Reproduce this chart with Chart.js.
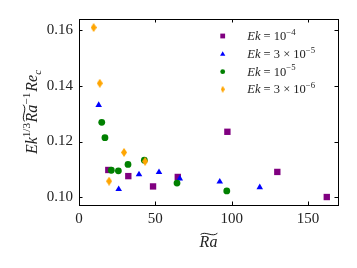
<!DOCTYPE html>
<html lang="en">
<head>
  <meta charset="UTF-8" />
  <title>Re_c scaling</title>
  <style>
    body { margin: 0; background: #fff; }
    canvas { display: block; }
  </style>
</head>
<body>
  <canvas id="scatter" width="357" height="268"></canvas>

  <script src="https://cdn.jsdelivr.net/npm/chart.js"></script>
  <script>
    // data: Ra~ on x, Ek^(1/3) Ra~^-1 Re_c on y
    const raEk1e4 = [19.2, 32.3, 48.5, 64.7, 97.2, 129.9, 162.3];
    const reEk1e4 = [0.1098, 0.1076, 0.1039, 0.1073, 0.1235, 0.1091, 0.1001];

    const raEk3e5 = [12.9, 26.0, 39.3, 52.4, 66.0, 92.2, 118.4];
    const reEk3e5 = [0.1331, 0.1029, 0.1082, 0.1090, 0.1067, 0.1056, 0.1036];

    const raEk1e5 = [14.9, 17.0, 21.2, 25.8, 32.1, 42.8, 64.2, 96.8];
    const reEk1e5 = [0.1269, 0.1214, 0.1097, 0.1095, 0.1118, 0.1133, 0.1051, 0.1023];

    const raEk3e6 = [9.6, 13.6, 19.7, 29.5, 43.3];
    const reEk3e6 = [0.1609, 0.1409, 0.1058, 0.1161, 0.1129];

    const xTicks = [0, 50, 100, 150];
    const yTicks = [0.10, 0.12, 0.14, 0.16];

    // legend: Ek = [mantissa]10^[exponent]
    const legendMantissa = ['', '3 \u00d7 ', '', '3 \u00d7 '];
    const legendExponent = ['\u22124', '\u22125', '\u22125', '\u22126'];

    const SERIF = '"Liberation Serif", "DejaVu Serif", serif';

    // matplotlib thin diamond marker
    function thinDiamond(w, h, color) {
      const c = document.createElement('canvas');
      c.width = w + 1;
      c.height = h + 1;
      const g = c.getContext('2d');
      g.fillStyle = color;
      g.beginPath();
      g.moveTo(c.width / 2, 0);
      g.lineTo(c.width, c.height / 2);
      g.lineTo(c.width / 2, c.height);
      g.lineTo(0, c.height / 2);
      g.closePath();
      g.fill();
      return c;
    }

    const series = [
      { ra: raEk1e4, re: reEk1e4, color: '#800080', style: 'rect', r: 4.5, lr: 3.4 },
      { ra: raEk3e5, re: reEk3e5, color: '#0000ff', style: 'triangle', r: 3.8, lr: 3.0 },
      { ra: raEk1e5, re: reEk1e5, color: '#008000', style: 'circle', r: 3.4, lr: 2.4 },
      { ra: raEk3e6, re: reEk3e6, color: '#ffa500', style: thinDiamond(5, 8, '#ffa500'), r: 4,
        legendStyle: thinDiamond(3, 6, '#ffa500'), lr: 3 }
    ];

    // draws a run list [{t, it, sup, sub}] starting at x, baseline y
    function drawRuns(ctx, runs, x, y, size) {
      ctx.textBaseline = 'alphabetic';
      ctx.textAlign = 'left';
      runs.forEach(run => {
        const s = (run.sup || run.sub) ? size * 0.7 : size;
        ctx.font = (run.it ? 'italic ' : '') + s + 'px ' + SERIF;
        let dy = 0;
        if (run.sup) dy = -size * 0.42;
        if (run.sub) dy = size * 0.22;
        ctx.fillText(run.t, x, y + dy);
        const w = ctx.measureText(run.t).width;
        if (run.tilde) {
          // wide tilde over the run
          ctx.save();
          ctx.lineWidth = 0.9;
          ctx.beginPath();
          const tx = x + 1, ty = y - size * 0.86, tw = w - 1;
          ctx.moveTo(tx, ty + 1.2);
          ctx.bezierCurveTo(tx + tw * 0.3, ty - 2.5, tx + tw * 0.7, ty + 4.5, tx + tw, ty);
          ctx.stroke();
          ctx.restore();
        }
        x += w + (run.gap || 0);
      });
      return x;
    }

    function runsWidth(ctx, runs, size) {
      let w = 0;
      runs.forEach(run => {
        const s = (run.sup || run.sub) ? size * 0.7 : size;
        ctx.font = (run.it ? 'italic ' : '') + s + 'px ' + SERIF;
        w += ctx.measureText(run.t).width + (run.gap || 0);
      });
      return w;
    }

    const framePlugin = {
      id: 'frame',
      afterDraw(chart) {
        const ctx = chart.ctx;
        const a = chart.chartArea;
        const xs = chart.scales.x, ys = chart.scales.y;
        ctx.save();
        ctx.strokeStyle = '#000';
        ctx.fillStyle = '#222';
        ctx.lineWidth = 1;
        ctx.strokeRect(Math.round(a.left) + 0.5, Math.round(a.top) + 0.5,
          Math.round(a.right - a.left), Math.round(a.bottom - a.top));

        // inward ticks on all four sides
        const tl = 3.5;
        ctx.beginPath();
        xTicks.forEach(v => {
          const px = Math.round(xs.getPixelForValue(v)) + 0.5;
          ctx.moveTo(px, a.bottom); ctx.lineTo(px, a.bottom - tl);
          ctx.moveTo(px, a.top); ctx.lineTo(px, a.top + tl);
        });
        yTicks.forEach(v => {
          const py = Math.round(ys.getPixelForValue(v)) + 0.5;
          ctx.moveTo(a.left, py); ctx.lineTo(a.left + tl, py);
          ctx.moveTo(a.right, py); ctx.lineTo(a.right - tl, py);
        });
        ctx.stroke();

        // x title
        const xRuns = [{ t: 'Ra', it: true, tilde: true }];
        const xw = runsWidth(ctx, xRuns, 16);
        drawRuns(ctx, xRuns, (a.left + a.right) / 2 - xw / 2, 247, 16);

        // y title, rotated
        const yRuns = [
          { t: 'Ek', it: true },
          { t: '1/3', sup: true, gap: 0.5 },
          { t: 'Ra', it: true, tilde: true },
          { t: '\u22121', sup: true, gap: 1 },
          { t: 'Re', it: true },
          { t: 'c', it: true, sub: true }
        ];
        const yw = runsWidth(ctx, yRuns, 16);
        ctx.translate(37, (a.top + a.bottom) / 2);
        ctx.rotate(-Math.PI / 2);
        drawRuns(ctx, yRuns, -yw / 2, 0, 16);
        ctx.setTransform(1, 0, 0, 1, 0, 0);

        // legend
        const rows = [36, 54.3, 71.7, 89.3];
        series.forEach((s, i) => {
          ctx.fillStyle = s.color;
          Chart.helpers.drawPoint(ctx, {
            pointStyle: s.legendStyle || s.style, radius: s.lr, rotation: 0, borderWidth: 0
          }, 222.7, rows[i]);
          ctx.fillStyle = '#222';
          drawRuns(ctx, [
            { t: 'Ek', it: true },
            { t: ' = ' + legendMantissa[i] + '10' },
            { t: legendExponent[i], sup: true }
          ], 247.3, rows[i] + 4, 12.5);
        });
        ctx.restore();
      }
    };

    const ctx = document.getElementById('scatter').getContext('2d');
    new Chart(ctx, {
      type: 'scatter',
      data: {
        datasets: series.map((s, i) => ({
          data: s.ra.map((ra, j) => ({ x: ra, y: s.re[j] })),
          backgroundColor: s.color,
          borderWidth: 0,
          pointStyle: s.style,
          pointRadius: s.r,
          pointHoverRadius: s.r,
          order: series.length - i
        }))
      },
      options: {
        responsive: false,
        animation: false,
        events: [],
        layout: { padding: { top: 19, right: 19, left: 0, bottom: 0 } },
        plugins: { legend: { display: false }, tooltip: { enabled: false } },
        scales: {
          x: {
            type: 'linear',
            min: 0,
            max: 169.65,
            grid: { display: false, drawTicks: false },
            border: { display: false },
            afterBuildTicks: scale => { scale.ticks = xTicks.map(v => ({ value: v })); },
            afterFit: scale => { scale.height = 63; },
            ticks: {
              padding: 5,
              maxRotation: 0,
              color: '#222',
              font: { family: SERIF, size: 15 }
            }
          },
          y: {
            type: 'linear',
            min: 0.09724,
            max: 0.16395,
            grid: { display: false, drawTicks: false },
            border: { display: false },
            afterBuildTicks: scale => { scale.ticks = yTicks.map(v => ({ value: v })); },
            afterFit: scale => { scale.width = 79; },
            ticks: {
              padding: 6,
              color: '#222',
              font: { family: SERIF, size: 15 },
              callback: v => v.toFixed(2)
            }
          }
        }
      },
      plugins: [framePlugin]
    });
  </script>
</body>
</html>
